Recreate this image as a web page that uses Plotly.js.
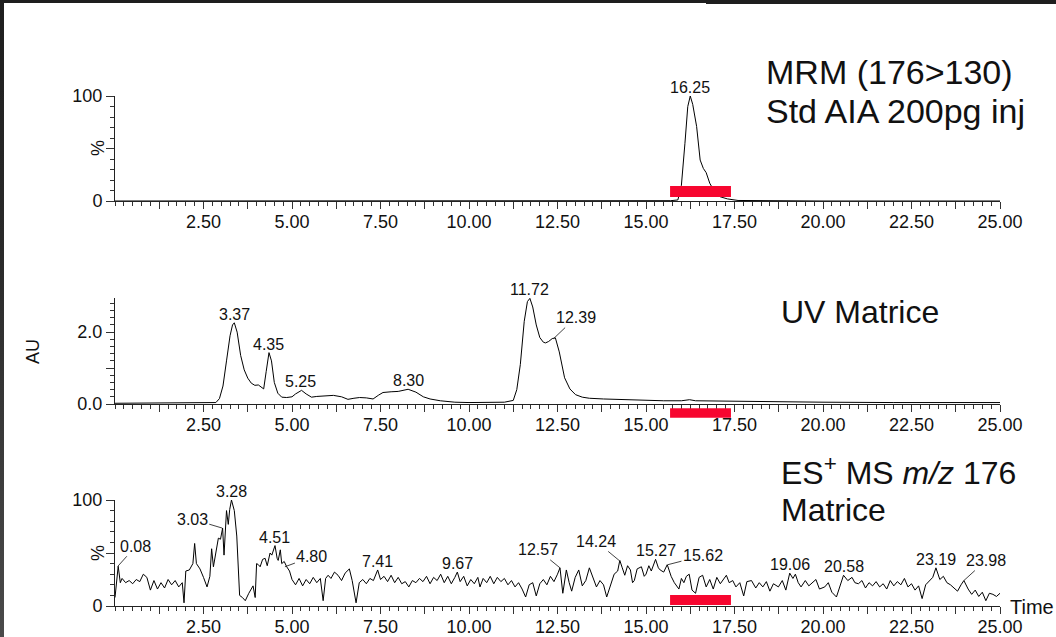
<!DOCTYPE html>
<html>
<head>
<meta charset="utf-8">
<script src="https://cdn.plot.ly/plotly-3.0.1.min.js"></script>
<style>
  html, body { margin: 0; padding: 0; background: #fff; }
  #wrap { position: relative; width: 1056px; height: 637px; overflow: hidden; }
  #chart { width: 1056px; height: 637px; }
  .bar-top1 { position: absolute; left: 0; top: 0; width: 706px; height: 3px; background: #1e1e1e; }
  .bar-top2 { position: absolute; left: 706px; top: 0; width: 350px; height: 4px; background: #1e1e1e; }
  .bar-left { position: absolute; left: 0; top: 0; width: 4px; height: 637px; background: linear-gradient(#1e1e1e, #2a2a2a 40%, #4a4a4a); }
</style>
</head>
<body>
<div id="wrap">
  <div id="chart"></div>
  <div class="bar-top1"></div>
  <div class="bar-top2"></div>
  <div class="bar-left"></div>
</div>
<script>
// ---------- DATA ----------
// Panel 1: MRM (176>130), Std AIA 200pg inj  — relative intensity (%)
const mrmTime = [0, 5, 10, 15, 15.7, 15.9, 16.0, 16.1, 16.18, 16.25, 16.32, 16.43, 16.53, 16.62, 16.7, 16.8, 16.95, 17.1, 17.3, 17.6, 18, 20, 25];
const mrmIntensity = [0, 0, 0, 0.2, 0.3, 1, 15, 55, 90, 100, 92, 71, 39, 31, 27, 17, 8, 4, 2, 0.5, 0.3, 0, 0];
const mrmPeakTimes = [16.25];
const mrmPeakHeights = [100];

// Panel 2: UV Matrice — absorbance (AU)
const uvTime = [0, 1, 2, 2.7, 2.85, 2.95, 3.05, 3.15, 3.25, 3.32, 3.37, 3.45, 3.55, 3.65, 3.75, 3.85, 3.95, 4.05, 4.15, 4.2, 4.27, 4.35, 4.42, 4.5, 4.6, 4.71, 4.85, 5.0, 5.1, 5.27, 5.4, 5.55, 5.7, 5.9, 6.17, 6.4, 6.58, 6.75, 6.91, 7.1, 7.29, 7.45, 7.57, 7.8, 8.0, 8.28, 8.5, 8.71, 8.9, 9.19, 9.6, 10.0, 10.5, 11.0, 11.25, 11.35, 11.45, 11.56, 11.65, 11.72, 11.8, 11.9, 12.0, 12.1, 12.16, 12.25, 12.35, 12.44, 12.55, 12.7, 12.85, 13.01, 13.2, 13.4, 13.8, 14.1, 14.46, 15.0, 15.5, 16.0, 16.23, 16.4, 17.0, 17.6, 18.5, 19.06, 20.0, 22.0, 25.0];
const uvAbsorbance = [0.02, 0.02, 0.02, 0.02, 0.04, 0.15, 0.5, 1.2, 1.9, 2.2, 2.26, 2.0, 1.35, 0.95, 0.72, 0.58, 0.52, 0.53, 0.46, 0.42, 0.9, 1.43, 1.2, 0.6, 0.3, 0.19, 0.18, 0.2, 0.28, 0.38, 0.28, 0.19, 0.21, 0.23, 0.24, 0.2, 0.13, 0.16, 0.18, 0.17, 0.14, 0.25, 0.32, 0.34, 0.35, 0.41, 0.33, 0.2, 0.14, 0.09, 0.05, 0.04, 0.04, 0.05, 0.1, 0.4, 1.1, 2.3, 2.85, 2.94, 2.7, 2.2, 1.85, 1.72, 1.7, 1.74, 1.82, 1.84, 1.45, 0.73, 0.42, 0.26, 0.19, 0.16, 0.14, 0.13, 0.12, 0.1, 0.09, 0.09, 0.12, 0.09, 0.08, 0.07, 0.06, 0.06, 0.05, 0.04, 0.04];
const uvPeakTimes = [3.37, 4.35, 5.25, 8.30, 11.72, 12.39];
const uvPeakHeights = [2.26, 1.43, 0.38, 0.41, 2.94, 1.82];

// Panel 3: ES+ MS m/z 176 Matrice — relative intensity (%)
const msTime = [0.00, 0.05, 0.09, 0.15, 0.2, 0.3, 0.4, 0.5, 0.6, 0.7, 0.8, 0.9, 1.0, 1.1, 1.2, 1.3, 1.4, 1.5, 1.6, 1.7, 1.8, 1.9, 1.95, 2.0, 2.1, 2.2, 2.25, 2.3, 2.4, 2.5, 2.6, 2.68, 2.73, 2.78, 2.85, 2.92, 2.98, 3.04, 3.08, 3.15, 3.2, 3.24, 3.29, 3.37, 3.44, 3.52, 3.6, 3.68, 3.78, 3.9, 3.96, 4.0, 4.05, 4.1, 4.17, 4.24, 4.3, 4.38, 4.43, 4.52, 4.58, 4.61, 4.67, 4.71, 4.78, 4.85, 4.93, 5.0, 5.1, 5.2, 5.3, 5.4, 5.5, 5.6, 5.7, 5.8, 5.88, 5.95, 6.02, 6.1, 6.2, 6.3, 6.4, 6.5, 6.62, 6.7, 6.81, 6.9, 7.0, 7.1, 7.2, 7.3, 7.42, 7.5, 7.6, 7.7, 7.8, 7.9, 8.0, 8.1, 8.2, 8.3, 8.4, 8.5, 8.6, 8.7, 8.8, 8.9, 9.0, 9.1, 9.2, 9.3, 9.4, 9.5, 9.6, 9.67, 9.75, 9.85, 9.95, 10.05, 10.15, 10.25, 10.31, 10.4, 10.5, 10.6, 10.7, 10.8, 10.9, 11.0, 11.1, 11.2, 11.3, 11.4, 11.5, 11.6, 11.7, 11.8, 11.9, 12.0, 12.1, 12.2, 12.3, 12.4, 12.5, 12.57, 12.65, 12.75, 12.83, 12.9, 13.0, 13.1, 13.2, 13.3, 13.4, 13.5, 13.6, 13.7, 13.8, 13.89, 14.0, 14.1, 14.2, 14.26, 14.33, 14.4, 14.48, 14.56, 14.62, 14.67, 14.75, 14.87, 14.95, 15.0, 15.08, 15.15, 15.27, 15.35, 15.4, 15.5, 15.6, 15.71, 15.8, 15.93, 16.0, 16.07, 16.14, 16.22, 16.3, 16.4, 16.5, 16.6, 16.7, 16.8, 16.9, 17.0, 17.1, 17.2, 17.27, 17.35, 17.45, 17.54, 17.65, 17.76, 17.85, 17.98, 18.1, 18.2, 18.3, 18.4, 18.5, 18.6, 18.74, 18.85, 18.95, 19.06, 19.15, 19.22, 19.3, 19.38, 19.5, 19.6, 19.7, 19.8, 19.9, 20.05, 20.15, 20.25, 20.38, 20.48, 20.58, 20.7, 20.82, 20.9, 21.0, 21.1, 21.2, 21.3, 21.4, 21.5, 21.6, 21.7, 21.8, 21.9, 22.0, 22.1, 22.2, 22.3, 22.4, 22.5, 22.6, 22.7, 22.8, 22.9, 23.0, 23.1, 23.19, 23.3, 23.4, 23.5, 23.6, 23.7, 23.8, 23.9, 23.98, 24.1, 24.2, 24.3, 24.4, 24.5, 24.6, 24.7, 24.8, 24.9, 25.0];
const msIntensity = [8, 25, 37.5, 22, 26, 22, 24, 21, 25, 23, 30, 27, 15, 24, 16, 22, 17, 25, 20, 24, 18, 22, 3, 33, 34, 40, 59, 40, 35, 27, 18, 28, 54, 37, 50, 64, 63, 73.5, 48, 90, 77, 91, 100, 90, 66, 10, 8, 5, 12, 19, 8, 40, 39, 37, 44, 45, 38, 50, 48, 57, 45, 43, 53, 40, 42, 37, 33, 25, 20, 26, 19, 25, 21, 27, 22, 26, 5, 26, 29, 26, 32, 29, 24, 31, 35, 24, 3, 22, 25, 21, 26, 24, 34, 25, 28, 23, 29, 22, 27, 21, 23, 18, 24, 22, 26, 23, 28, 21, 27, 24, 30, 22, 28, 21, 27, 32, 23, 28, 19, 25, 21, 27, 18, 26, 22, 28, 21, 27, 23, 26, 20, 24, 18, 22, 16, 8.5, 20, 22, 9.5, 21, 25, 20, 28, 23, 30, 36, 12, 34, 22, 14, 27, 34, 19, 24, 36, 26, 18, 24, 20, 8.5, 21, 30, 33, 43, 36, 29, 38, 34, 22, 24, 35, 37, 28, 30, 38, 33, 44, 36, 34, 32, 39, 28, 22, 16, 26, 22, 28, 30, 15, 12, 27, 29, 18, 25, 16, 27, 21, 26, 29, 22, 24, 18, 22, 9.5, 23, 24, 17, 22, 18, 23, 14, 21, 18, 24, 15, 31, 26, 30, 22, 18, 24, 19, 22, 25, 16, 18, 22, 13, 8.5, 20, 29, 24, 27, 22, 21, 24, 17, 22, 19, 23, 18, 21, 16, 24, 19, 23, 20, 26, 18, 21, 15, 19, 7, 20, 24, 27, 36, 25, 28, 22, 20, 17, 14, 20, 24, 16, 11, 15, 9, 13, 5, 12, 11, 9, 12];
const msPeakTimes = [0.08, 3.03, 3.28, 4.51, 4.80, 7.41, 9.67, 12.57, 14.24, 15.27, 15.62, 19.06, 20.58, 23.19, 23.98];
const msPeakHeights = [37.5, 73.5, 100, 57, 37, 34, 32, 36, 43, 44, 39, 31, 29, 36, 24];

// Integration window (red bar), minutes
const windowStart = 15.68;
const windowEnd = 17.40;

// Axis ticks
const xMajorTicks = [1.25, 2.5, 3.75, 5, 6.25, 7.5, 8.75, 10, 11.25, 12.5, 13.75, 15, 16.25, 17.5, 18.75, 20, 21.25, 22.5, 23.75, 25];
const xTickLabels = ['', '2.50', '', '5.00', '', '7.50', '', '10.00', '', '12.50', '', '15.00', '', '17.50', '', '20.00', '', '22.50', '', '25.00'];
const pctTicks = [0, 50, 100];
const pctTickLabels = ['0', '', '100'];
const auTicks = [0, 1, 2];
const auTickLabels = ['0.0', '', '2.0'];

// ---------- LAYOUT HELPERS ----------
const W = 1056, H = 637;
const FONT = '"Liberation Sans", Arial, sans-serif';
const px = v => v / W;
const py = v => 1 - v / H;
const tickFont = { family: FONT, size: 18, color: '#111' };
const xDomain = [px(115), px(1000)];

function xAxis(anchor) {
  return {
    domain: xDomain, range: [0, 25], anchor: anchor,
    showline: true, linecolor: '#222', linewidth: 1,
    ticks: 'outside', ticklen: 7, tickwidth: 1, tickcolor: '#333',
    tickmode: 'array', tickvals: xMajorTicks, ticktext: xTickLabels,
    ticklabelstandoff: -3,
    tickfont: tickFont, showgrid: false, zeroline: false, fixedrange: true,
    minor: { ticks: 'outside', ticklen: 4, tick0: 0, dtick: 0.25, tickcolor: '#333', tickwidth: 1, showgrid: false }
  };
}
function yAxis(anchor, domainPx, range, vals, text, minorStep) {
  return {
    domain: [py(domainPx[1]), py(domainPx[0])], range: range, anchor: anchor,
    showline: true, linecolor: '#222', linewidth: 1,
    ticks: 'outside', ticklen: 8, tickwidth: 1, tickcolor: '#333',
    tickmode: 'array', tickvals: vals, ticktext: text,
    tickfont: tickFont, showgrid: false, zeroline: false, fixedrange: true,
    minor: { ticks: 'outside', ticklen: 4, tick0: 0, dtick: minorStep, tickcolor: '#333', tickwidth: 1, showgrid: false }
  };
}

const lineStyle = { color: '#000', width: 1 };
const traces = [
  { x: mrmTime, y: mrmIntensity, xaxis: 'x', yaxis: 'y', type: 'scatter', mode: 'lines', line: lineStyle, hoverinfo: 'skip' },
  { x: uvTime, y: uvAbsorbance, xaxis: 'x2', yaxis: 'y2', type: 'scatter', mode: 'lines', line: lineStyle, hoverinfo: 'skip' },
  { x: msTime, y: msIntensity, xaxis: 'x3', yaxis: 'y3', type: 'scatter', mode: 'lines', line: lineStyle, hoverinfo: 'skip' }
];

// Leader-line offsets for some peak labels (pixels from the peak to the label)
const leaders = {
  '12.39': [22, -21],
  '0.08': [18, -20], '3.03': [-30, -9], '4.80': [27, -10], '12.57': [-22, -18],
  '14.24': [-23, -19], '15.62': [35, -9], '23.98': [22, -20]
};
const labelFont = { family: FONT, size: 16, color: '#111' };
const annotations = [];
function addPeakLabels(times, heights, xr, yr) {
  times.forEach((t, i) => {
    const txt = t.toFixed(2);
    const base = { x: t, y: heights[i], xref: xr, yref: yr, text: txt, font: labelFont };
    if (leaders[txt]) {
      annotations.push(Object.assign(base, {
        showarrow: true, arrowhead: 0, arrowwidth: 0.8, arrowcolor: '#111',
        ax: leaders[txt][0], ay: leaders[txt][1], standoff: 0, startstandoff: 0
      }));
    } else {
      annotations.push(Object.assign(base, { showarrow: false, yanchor: 'bottom', xanchor: 'center', yshift: -2 }));
    }
  });
}
addPeakLabels(mrmPeakTimes, mrmPeakHeights, 'x', 'y');
addPeakLabels(uvPeakTimes, uvPeakHeights, 'x2', 'y2');
addPeakLabels(msPeakTimes, msPeakHeights, 'x3', 'y3');

const topFont = { family: FONT, size: 34, color: '#111' };
const bigFont = { family: FONT, size: 32, color: '#111' };
function textAt(text, x, y, font, extra) {
  annotations.push(Object.assign({ text: text, x: px(x), y: py(y), xref: 'paper', yref: 'paper',
    xanchor: 'left', yanchor: 'middle', showarrow: false, font: font }, extra || {}));
}
textAt('MRM (176&gt;130)', 764, 72, topFont);
textAt('Std AIA 200pg inj', 764, 111, topFont);
textAt('UV Matrice', 779, 312, bigFont);
textAt('ES<sup>+</sup> MS <i>m/z</i> 176', 779, 471, bigFont);
textAt('Matrice', 779, 510, bigFont);
textAt('Time', 1008, 607, { family: FONT, size: 20, color: '#111' });
const titleFont = { family: FONT, size: 18, color: '#111' };
annotations.push({ text: '%', x: px(98), y: py(148), xref: 'paper', yref: 'paper', xanchor: 'center', yanchor: 'middle', textangle: -90, showarrow: false, font: titleFont });
annotations.push({ text: 'AU', x: px(33), y: py(352), xref: 'paper', yref: 'paper', xanchor: 'center', yanchor: 'middle', textangle: -90, showarrow: false, font: titleFont });
annotations.push({ text: '%', x: px(98), y: py(553), xref: 'paper', yref: 'paper', xanchor: 'center', yanchor: 'middle', textangle: -90, showarrow: false, font: titleFont });

const red = '#f7062f';
const shapes = [
  { type: 'rect', xref: 'x', yref: 'y domain', x0: windowStart, x1: windowEnd, y0: 0.038, y1: 0.143, fillcolor: red, line: { width: 0 } },
  { type: 'rect', xref: 'x2', yref: 'y2 domain', x0: windowStart, x1: windowEnd, y0: -0.13, y1: -0.04, fillcolor: red, line: { width: 0 } },
  { type: 'rect', xref: 'x3', yref: 'y3 domain', x0: windowStart, x1: windowEnd, y0: 0.01, y1: 0.104, fillcolor: red, line: { width: 0 } }
];

const layout = {
  width: W, height: H,
  margin: { l: 0, r: 0, t: 0, b: 0, pad: 0 },
  paper_bgcolor: '#fff', plot_bgcolor: 'rgba(0,0,0,0)',
  showlegend: false,
  font: { family: FONT, color: '#111' },
  xaxis: xAxis('y'),
  yaxis: yAxis('x', [96, 201], [0, 100], pctTicks, pctTickLabels, 10),
  xaxis2: xAxis('y2'),
  yaxis2: yAxis('x2', [298, 404], [0, 2.95], auTicks, auTickLabels, 0.2),
  xaxis3: xAxis('y3'),
  yaxis3: yAxis('x3', [500, 606], [0, 100], pctTicks, pctTickLabels, 10),
  annotations: annotations,
  shapes: shapes
};

Plotly.newPlot('chart', traces, layout, { displayModeBar: false, staticPlot: true });
</script>
</body>
</html>
